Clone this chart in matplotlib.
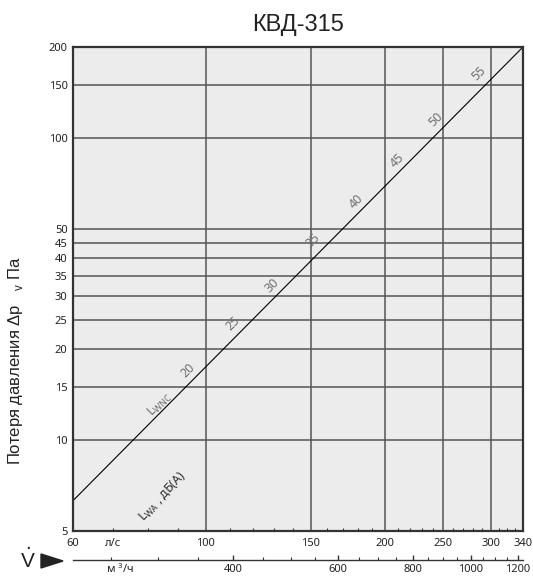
import matplotlib
matplotlib.use('Agg')
import matplotlib.pyplot as plt
from matplotlib.ticker import FixedLocator, NullFormatter, NullLocator
from matplotlib.patches import Polygon

# flow, l/s and pressure drop, Pa (straight line on log-log)
flow_ls = [60, 340]
dp_pa = [6.3, 200]

# sound power labels along the line
lwa_levels = ['20', '25', '30', '35', '40', '45', '50', '55']
lwa_x = [93.4, 111.2, 129.2, 151.3, 178.6, 209.2, 243.2, 286.9]
lwa_y = [17.05, 24.4, 32.6, 45.9, 61.4, 84.5, 115.5, 164]

x_ticks = [60, 100, 150, 200, 250, 300, 340]
x_minor = [70, 80, 90, 110, 120, 130, 140, 160, 170, 180, 190, 210, 220,
           230, 240, 260, 270, 280, 290, 310, 320, 330]
y_ticks = [5, 10, 15, 20, 25, 30, 35, 40, 45, 50, 100, 150, 200]

m3h_major = [400, 600, 800, 1000, 1200]
m3h_minor = [250, 300, 350, 450, 500, 550, 650, 700, 750, 850, 900, 950,
             1050, 1100, 1150]

TICKFONT = 'Noto Sans'
plt.rcParams['font.family'] = ['Liberation Sans', 'DejaVu Sans']

W, H = 533, 578
fig = plt.figure(figsize=(W / 100, H / 100), dpi=100)
L, R, T, B = 73, 523, 47, 531
ax = fig.add_axes([L / W, 1 - B / H, (R - L) / W, (B - T) / H])
ax.set_facecolor('#ececec')

ax.set_xscale('log')
ax.set_yscale('log')
ax.set_xlim(60, 340)
ax.set_ylim(5, 200)

ax.plot(flow_ls, dp_pa, color='black', lw=0.8, zorder=3)

# ticks / grid
ax.xaxis.set_major_locator(FixedLocator(x_ticks))
ax.set_xticklabels([str(v) for v in x_ticks], fontfamily=TICKFONT, fontsize=8)
ax.xaxis.set_minor_locator(FixedLocator(x_minor))
ax.xaxis.set_minor_formatter(NullFormatter())
ax.yaxis.set_major_locator(FixedLocator(y_ticks))
ax.set_yticklabels([str(v) for v in y_ticks], fontfamily=TICKFONT, fontsize=8)
ax.yaxis.set_minor_locator(NullLocator())
ax.tick_params(axis='both', which='major', length=0, colors='#222222')
ax.tick_params(axis='x', which='major', pad=5)
ax.tick_params(axis='y', which='major', pad=4)
ax.tick_params(axis='x', which='minor', direction='in', length=2.3,
               width=0.8, color='#333333')
ax.grid(True, which='major', color='#555555', lw=1.1)
for s in ax.spines.values():
    s.set_color('#333333')
    s.set_linewidth(1.6)
    s.set_zorder(4)

# unit label at the height of the tick labels
ax.text(70, -0.0135, 'л/с', transform=ax.get_xaxis_transform(),
        fontfamily=TICKFONT, fontsize=8, ha='center', va='top',
        color='#222222')

# line labels
for lab, x, y in zip(lwa_levels, lwa_x, lwa_y):
    ax.text(x, y, lab, rotation=45, fontfamily=TICKFONT, fontsize=9,
            color='#707070', ha='center', va='center', zorder=5)
ax.text(83.9, 13.06, r'L$_{\mathregular{WNC}}$', rotation=45,
        fontfamily=TICKFONT, fontsize=9, color='#707070',
        ha='center', va='center')
ax.text(84.9, 6.48, r'L$_{\mathregular{WA}}$ , дБ(A)', rotation=47,
        fontfamily=TICKFONT, fontsize=9, color='#333333',
        ha='center', va='center')

# title and y label
fig.text(298 / W, 1 - 25 / H, 'КВД-315', fontsize=17, ha='center',
         va='center', color='#222222')
fig.text(16 / W, 1 - 361 / H,
         'Потеря давления Δp   ${}_{\\mathregular{v}}$ Па',
         rotation=90, fontsize=12, ha='center', va='center', color='#222222')

# second flow axis in m3/h
ax2 = fig.add_axes([L / W, 1 - 560 / H, (R - L) / W, 0.0001])
ax2.set_facecolor('none')
ax2.set_xscale('log')
ax2.set_xlim(60 * 3.6, 340 * 3.6)
for side in ['left', 'right', 'top']:
    ax2.spines[side].set_visible(False)
ax2.spines['bottom'].set_color('#333333')
ax2.spines['bottom'].set_linewidth(1.0)
ax2.yaxis.set_major_locator(NullLocator())
ax2.yaxis.set_minor_locator(NullLocator())
ax2.xaxis.set_major_locator(FixedLocator(m3h_major))
ax2.set_xticklabels([str(v) for v in m3h_major], fontfamily=TICKFONT,
                    fontsize=8)
ax2.xaxis.set_minor_locator(FixedLocator(m3h_minor))
ax2.xaxis.set_minor_formatter(NullFormatter())
ax2.tick_params(axis='x', which='major', direction='in', length=3.8,
                width=1.0, color='#333333', pad=3, colors='#222222')
ax2.tick_params(axis='x', which='minor', direction='in', length=2.2,
                width=0.8, color='#333333')
ax2.text(245, -30, 'м $^{\\mathregular{3}}$/ч',
         transform=ax2.get_xaxis_transform(), fontfamily=TICKFONT,
         fontsize=8, ha='left', va='top', color='#222222')

# V-dot and arrow
fig.text(28 / W, 1 - 560 / H, r'$\dot{\mathregular{V}}$', fontsize=15,
         ha='center', va='center', color='#222222')
fig.patches.append(Polygon([[41 / W, 1 - 554 / H], [41 / W, 1 - 568 / H],
                            [63 / W, 1 - 561 / H]], closed=True,
                           transform=fig.transFigure, color='#222222'))

fig.savefig('out.png', dpi=100)
